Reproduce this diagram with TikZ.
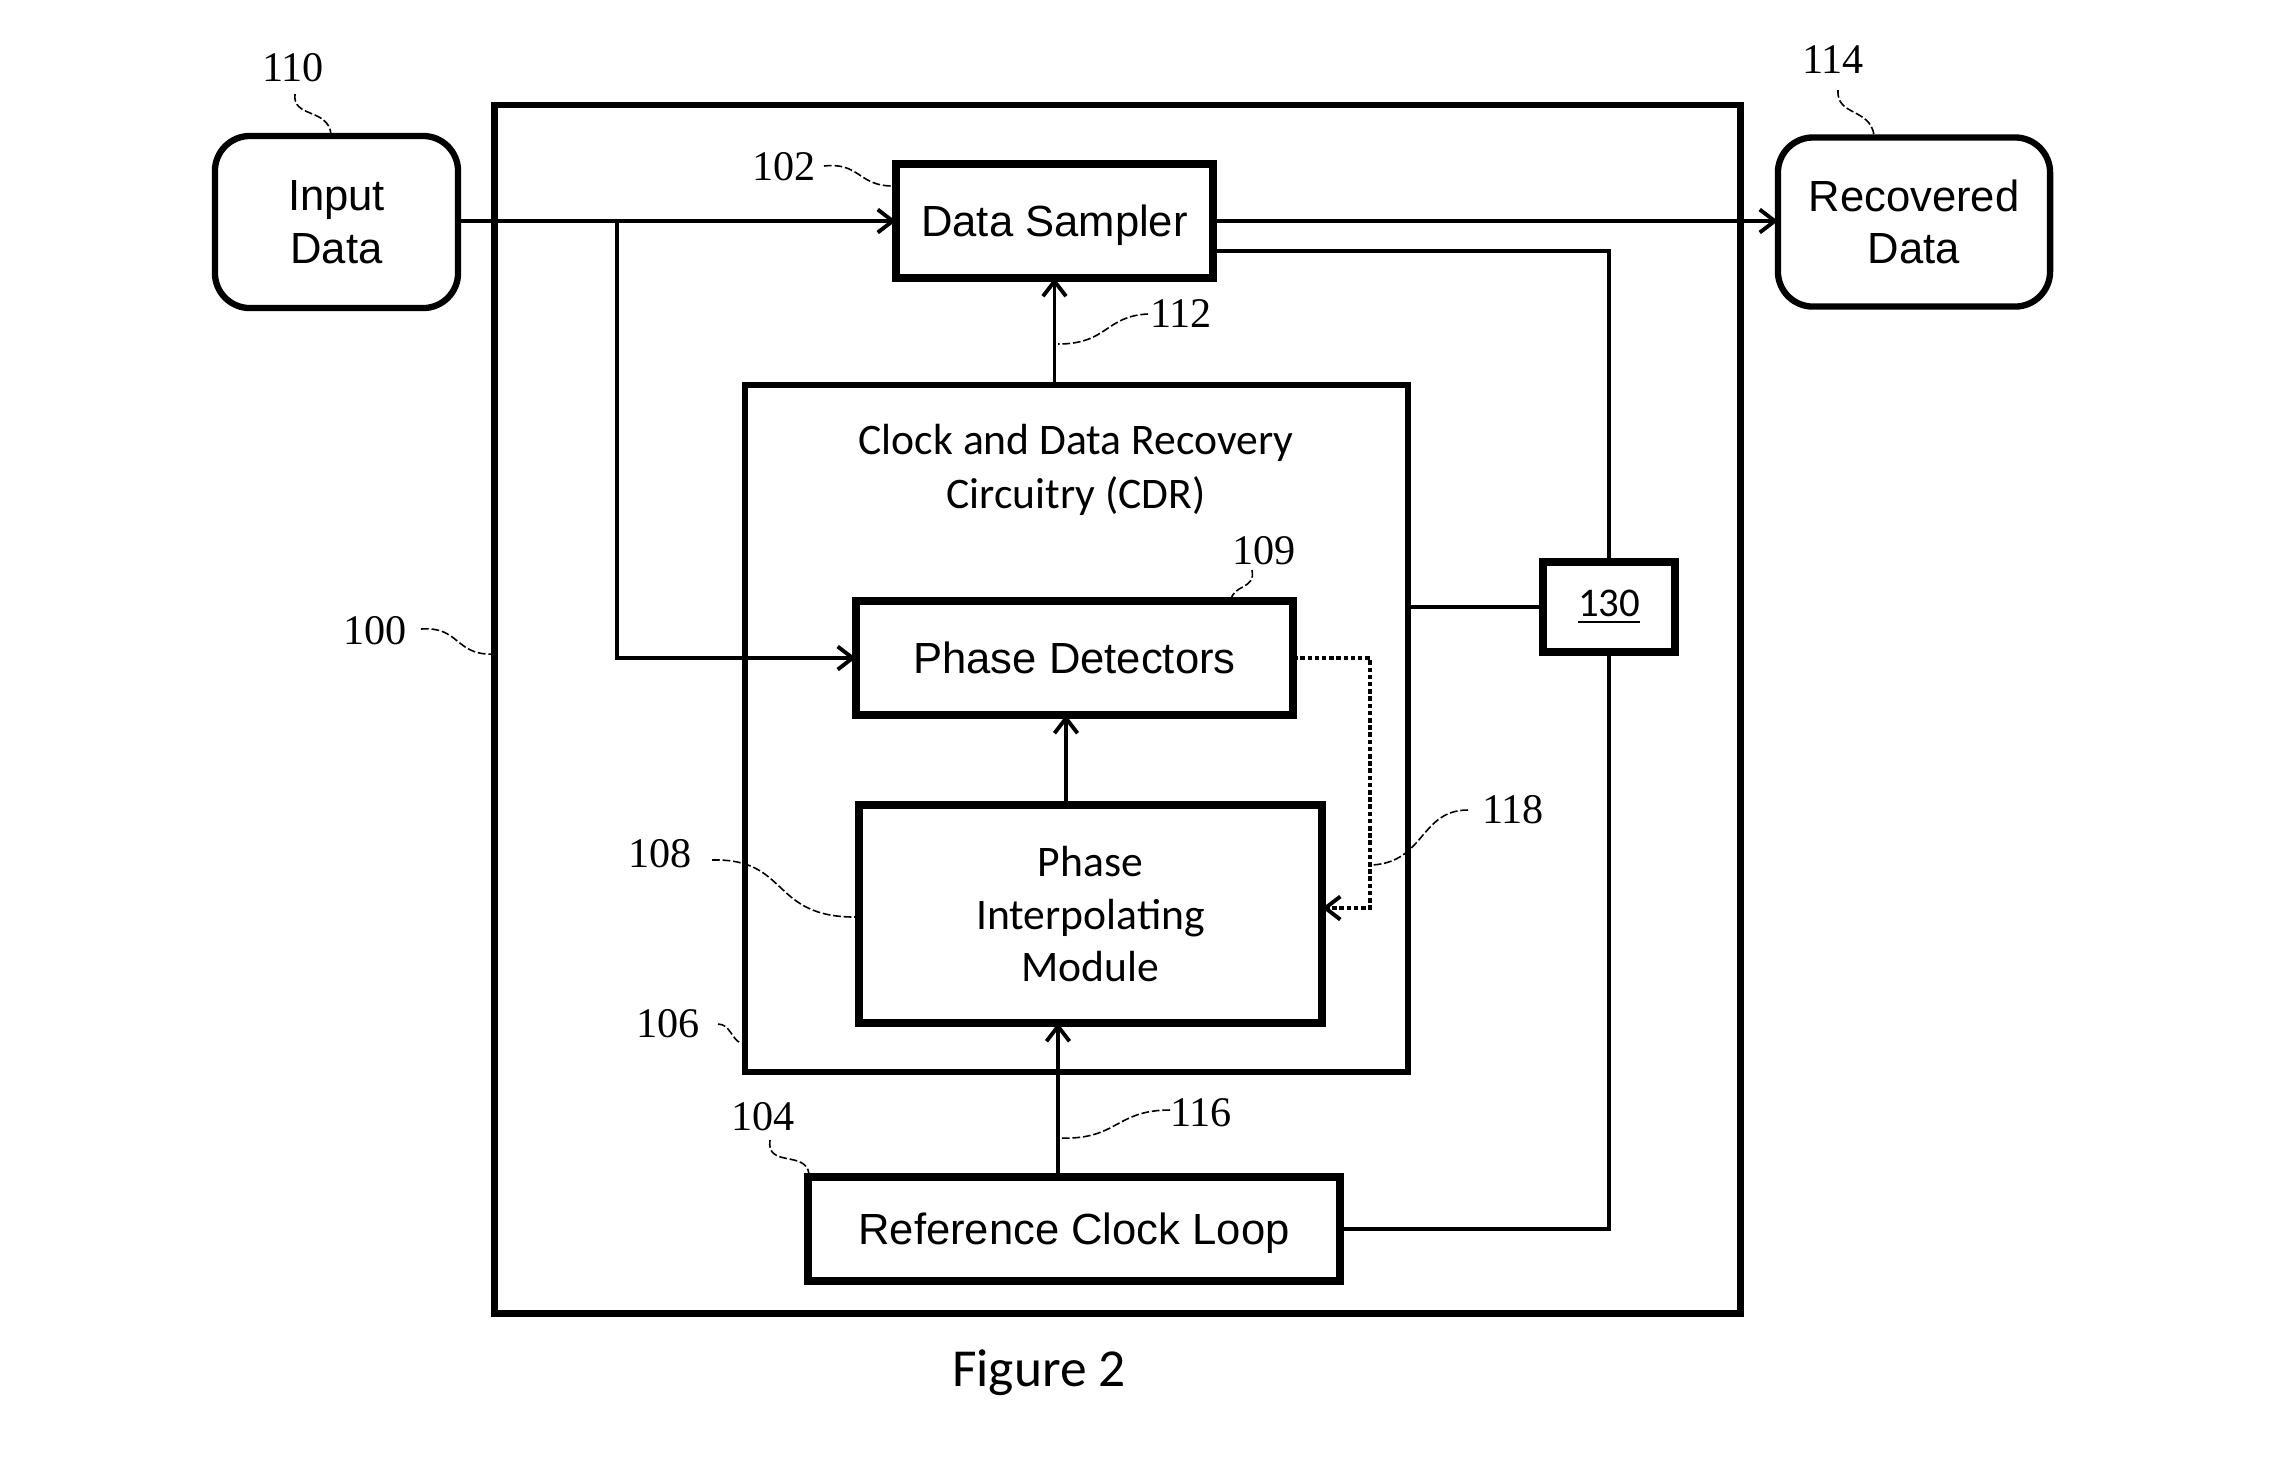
\documentclass[tikz,border=0pt]{standalone}
\usepackage{fontspec}
\setmainfont{Liberation Sans}
\newfontfamily\calib{Carlito}
\newfontfamily\numf{Liberation Serif}
\usetikzlibrary{arrows.meta}
\begin{document}
\begin{tikzpicture}[x=0.01cm,y=-0.01cm,
  every node/.style={inner sep=0pt, outer sep=0pt},
  txt/.style={font=\fontsize{12.4}{15}\selectfont, align=center},
  blk/.style={draw, line width=2.3pt, txt},
  oneline/.style={text height=9pt, text depth=0.3pt},
  rbox/.style={draw, line width=1.8pt, rounded corners=0.35cm, txt},
  outerbox/.style={draw, line width=1.8pt},
  lbl/.style={font=\numf\fontsize{12}{14}\selectfont},
  leader/.style={line width=0.45pt, dash pattern=on 2.2pt off 0.8pt},
  conn/.style={line width=1.4pt},
  tip/.style={-{Straight Barb[length=1.5mm,width=2.3mm,line width=1.1pt]}},
  thinarr/.style={line width=1pt, tip},
  dotl/.style={line width=1.2pt, dash pattern=on 0.045cm off 0.027cm, tip}]
\useasboundingbox (0,0) rectangle (2278,1456);

% outer box 100 and CDR box 106
\node[outerbox, minimum width=12.45cm, minimum height=12.08cm] (outer) at (1117.5,709) {};
\node[outerbox, minimum width=6.63cm, minimum height=6.87cm] (cdr) at (1076.5,728.5) {};
\node[txt, font=\calib\fontsize{12.4}{15.3}\selectfont] (cdrt) at (1076,470) {Clock and Data Recovery\\Circuitry (CDR)};

% blocks
\node[rbox, minimum width=2.43cm, minimum height=1.72cm] (in) at (336.5,222) {Input\\Data};
\node[rbox, minimum width=2.72cm, minimum height=1.69cm] (rec) at (1914,222) {Recovered\\Data};
\node[blk, oneline, minimum width=3.17cm, minimum height=1.14cm] (ds) at (1054.5,221) {Data Sampler};
\node[blk, oneline, minimum width=4.37cm, minimum height=1.14cm] (pd) at (1074.5,658) {Phase Detectors};
\node[blk, minimum width=4.63cm, minimum height=2.18cm, font=\calib\fontsize{12.4}{15}\selectfont] (pim) at (1090.5,914) {Phase\\Interpolating\\Module};
\node[blk, oneline, minimum width=5.32cm, minimum height=1.04cm] (rcl) at (1074,1229) {Reference Clock Loop};
\node[draw, line width=2.3pt, minimum width=1.32cm, minimum height=0.9cm, fill=white, font=\calib\fontsize{11.6}{14}\selectfont] (b130) at (1609,607) {\underline{130}};

% helper coordinates
\coordinate (br) at (617,221);
\coordinate (fbA) at (1609,251);
\coordinate (a2) at (1066,0);
\coordinate (a3) at (1058,0);
\coordinate (dt) at (1370,908);

% connectors
\draw[conn, tip] (ds.west -| in.east) -- (ds.west);
\draw[conn, tip] (br) |- (pd.west);
\draw[conn, tip] (ds.east) -- (ds.east -| rec.west);
\draw[conn] (ds.east |- fbA) -- (fbA) -- (b130.north);
\draw[conn] (b130.south) -- (b130.south |- rcl.east) -- (rcl.east);
\draw[conn] (cdr.east |- b130.west) -- (b130.west);
\draw[thinarr] (ds.south |- cdr.north) -- (ds.south);
\draw[thinarr] (a2 |- pim.north) -- (a2 |- pd.south);
\draw[thinarr] (a3 |- rcl.north) -- (a3 |- pim.south);
\draw[dotl] (pd.east) -| (dt) -- (dt -| pim.east);

% reference numerals
\node[lbl] (n110) at (293,68) {110};
\node[lbl] (n102) at (784,167) {102};
\node[lbl] (n112) at (1181,314) {112};
\node[lbl] (n114) at (1833,60) {114};
\node[lbl] (n109) at (1264,551) {109};
\node[lbl] (n100) at (375,631) {100};
\node[lbl] (n118) at (1513,810) {118};
\node[lbl] (n108) at (660,854) {108};
\node[lbl] (n106) at (668,1024) {106};
\node[lbl] (n104) at (763,1117) {104};
\node[lbl] (n116) at (1201,1113) {116};

% leaders
\draw[leader] (295,94) .. controls (292,118) and (328,108) .. (331,134);
\draw[leader] (824,166) .. controls (860,162) and (858,186) .. (893,186);
\draw[leader] (1148,314) .. controls (1105,316) and (1108,344) .. (1058,344);
\draw[leader] (1838,90) .. controls (1836,116) and (1870,108) .. (1874,135);
\draw[leader] (1252,570) .. controls (1256,590) and (1232,584) .. (1231,601);
\draw[leader] (421,629) .. controls (460,626) and (455,656) .. (494,654);
\draw[leader] (1468,810) .. controls (1420,810) and (1425,862) .. (1372,865);
\draw[leader] (712,860) .. controls (790,858) and (770,918) .. (857,917);
\draw[leader] (718,1024) .. controls (730,1024) and (732,1040) .. (741,1043);
\draw[leader] (770,1140) .. controls (766,1168) and (806,1150) .. (809,1174);
\draw[leader] (1170,1110) .. controls (1115,1110) and (1118,1140) .. (1060,1138);

% caption
\node[font=\calib\fontsize{15.2}{18}\selectfont] (fig) at (1039,1373) {Figure 2};
\end{tikzpicture}
\end{document}
